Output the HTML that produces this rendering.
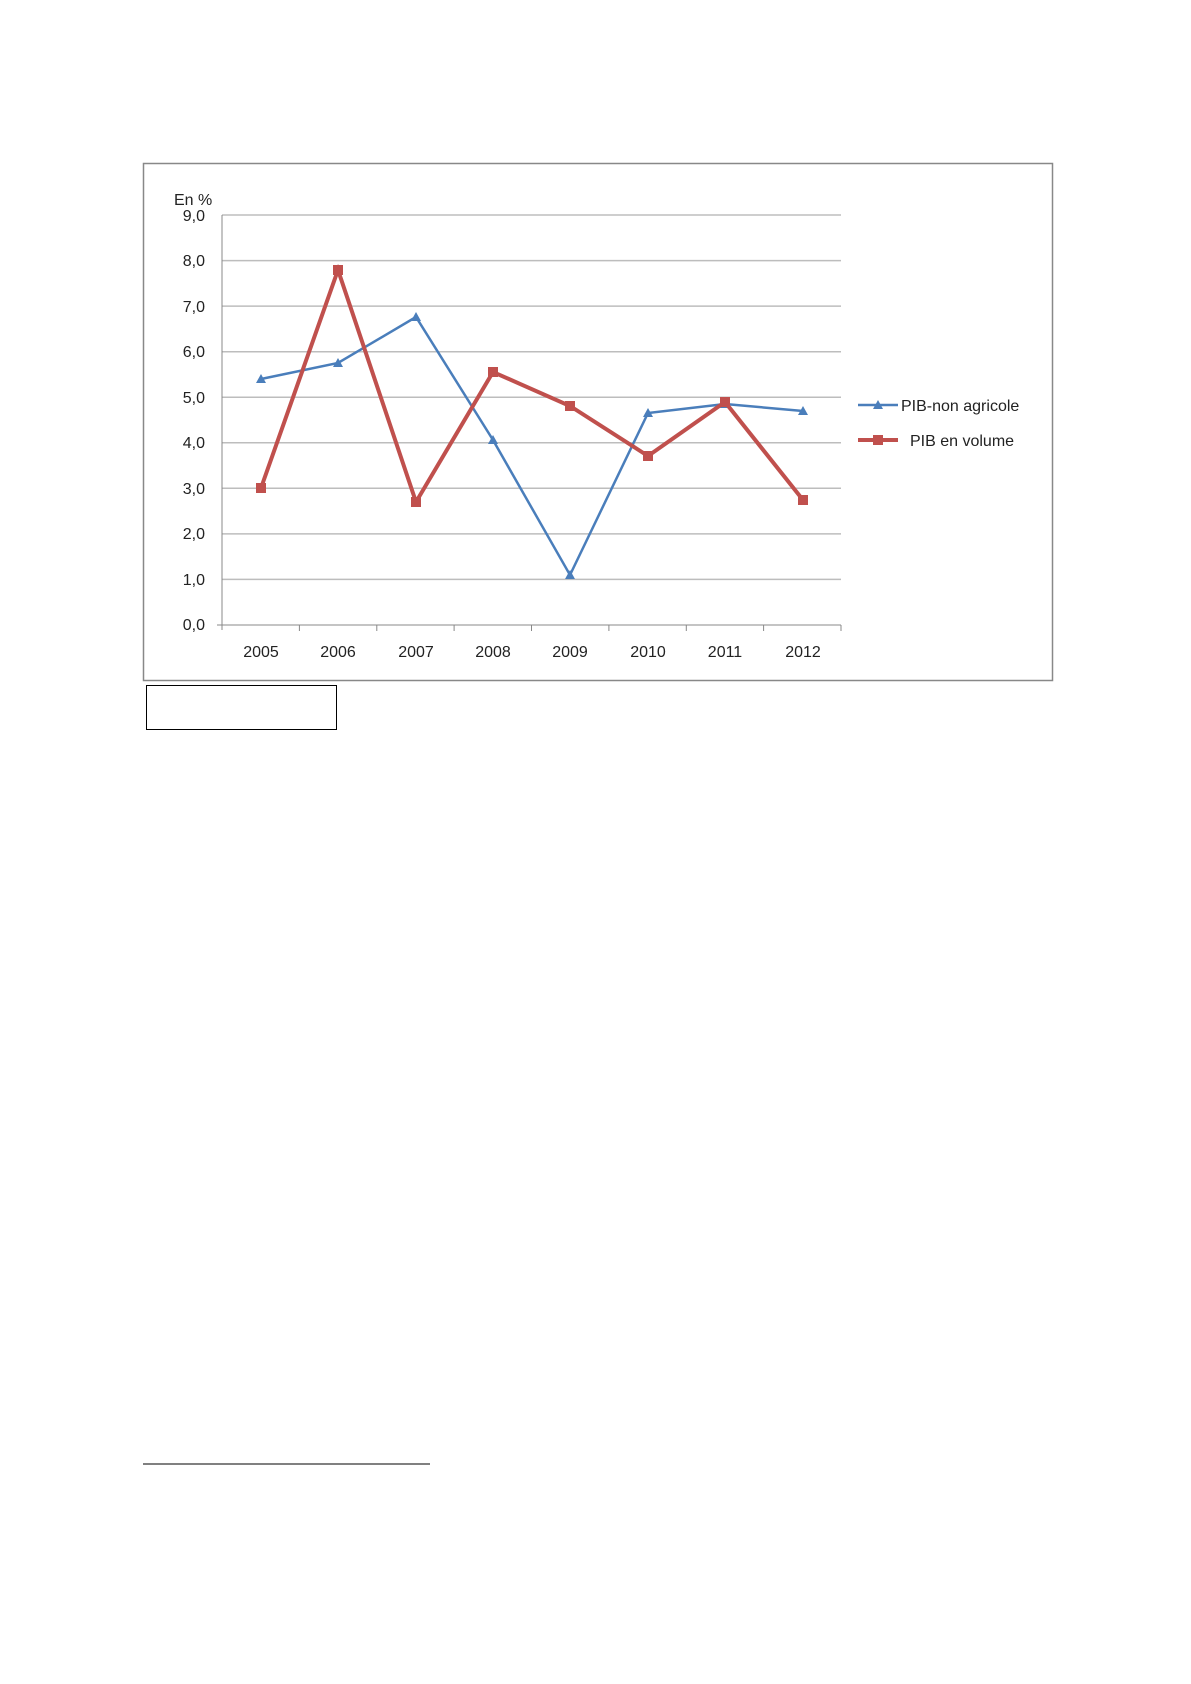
<!DOCTYPE html>
<html><head><meta charset="utf-8"><style>
body{margin:0;background:#fff;}
svg{display:block;}
text{font-family:"Liberation Sans Narrow","Liberation Sans",sans-serif;font-size:16px;fill:#222;}
</style></head><body>
<svg width="1191" height="1684" xmlns="http://www.w3.org/2000/svg">
<rect x="143.5" y="163.5" width="909" height="517" fill="#fff" stroke="#888" stroke-width="1.5"/>
<g stroke="#bdbdbd" stroke-width="1.5">
<line x1="222" x2="841" y1="215" y2="215"/>
<line x1="222" x2="841" y1="260.6" y2="260.6"/>
<line x1="222" x2="841" y1="306.1" y2="306.1"/>
<line x1="222" x2="841" y1="351.7" y2="351.7"/>
<line x1="222" x2="841" y1="397.2" y2="397.2"/>
<line x1="222" x2="841" y1="442.8" y2="442.8"/>
<line x1="222" x2="841" y1="488.3" y2="488.3"/>
<line x1="222" x2="841" y1="533.9" y2="533.9"/>
<line x1="222" x2="841" y1="579.4" y2="579.4"/>
</g>
<g stroke="#888" stroke-width="1">
<line x1="222" x2="222" y1="215" y2="630"/>
<line x1="217" x2="841" y1="625" y2="625"/>
<line x1="299.4" x2="299.4" y1="625" y2="631"/>
<line x1="376.8" x2="376.8" y1="625" y2="631"/>
<line x1="454.1" x2="454.1" y1="625" y2="631"/>
<line x1="531.5" x2="531.5" y1="625" y2="631"/>
<line x1="608.9" x2="608.9" y1="625" y2="631"/>
<line x1="686.3" x2="686.3" y1="625" y2="631"/>
<line x1="763.6" x2="763.6" y1="625" y2="631"/>
<line x1="841" x2="841" y1="625" y2="631"/>
</g>
<text x="174" y="205">En %</text>
<g text-anchor="end">
<text x="205" y="221">9,0</text><text x="205" y="266">8,0</text><text x="205" y="312">7,0</text>
<text x="205" y="357">6,0</text><text x="205" y="403">5,0</text><text x="205" y="448">4,0</text>
<text x="205" y="494">3,0</text><text x="205" y="539">2,0</text><text x="205" y="585">1,0</text>
<text x="205" y="630">0,0</text>
</g>
<g text-anchor="middle">
<text x="261" y="657">2005</text><text x="338" y="657">2006</text><text x="416" y="657">2007</text>
<text x="493" y="657">2008</text><text x="570" y="657">2009</text><text x="648" y="657">2010</text>
<text x="725" y="657">2011</text><text x="803" y="657">2012</text>
</g>
<polyline fill="none" stroke="#4a7ebb" stroke-width="2.5" points="261,379 338,363 416,317 493,440 570,575 648,413 725,404 803,411"/>
<g fill="#4a7ebb">
<polygon points="261,374 256,383 266,383"/><polygon points="338,358 333,367 343,367"/>
<polygon points="416,312 411,321 421,321"/><polygon points="493,435 488,444 498,444"/>
<polygon points="570,570 565,579 575,579"/><polygon points="648,408 643,417 653,417"/>
<polygon points="725,399 720,408 730,408"/><polygon points="803,406 798,415 808,415"/>
</g>
<polyline fill="none" stroke="#c0504d" stroke-width="4" points="261,488 338,270 416,502 493,372 570,406 648,456 725,402 803,500"/>
<g fill="#c0504d">
<rect x="256" y="483" width="10" height="10"/><rect x="333" y="265" width="10" height="10"/>
<rect x="411" y="497" width="10" height="10"/><rect x="488" y="367" width="10" height="10"/>
<rect x="565" y="401" width="10" height="10"/><rect x="643" y="451" width="10" height="10"/>
<rect x="720" y="397" width="10" height="10"/><rect x="798" y="495" width="10" height="10"/>
</g>
<line x1="858" x2="898" y1="405" y2="405" stroke="#4a7ebb" stroke-width="2.5"/>
<polygon points="878,400 873,409 883,409" fill="#4a7ebb"/>
<text x="901" y="411">PIB-non agricole</text>
<line x1="858" x2="898" y1="440" y2="440" stroke="#c0504d" stroke-width="4"/>
<rect x="873" y="435" width="10" height="10" fill="#c0504d"/>
<text x="910" y="446">PIB en volume</text>
<rect x="146.5" y="685.5" width="190" height="44" fill="none" stroke="#000" stroke-width="1"/>
<line x1="143" x2="430" y1="1464" y2="1464" stroke="#000" stroke-width="1"/>
</svg>
</body></html>
